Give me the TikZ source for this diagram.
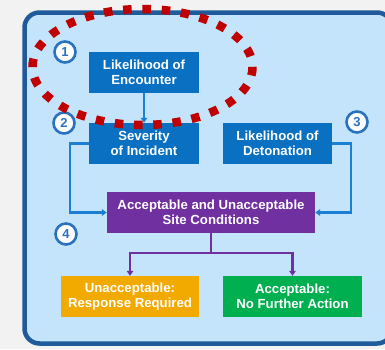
\documentclass[tikz,border=0pt]{standalone}
\usepackage{fontspec}
\setmainfont{Liberation Sans}
\usetikzlibrary{arrows.meta}

\definecolor{pagebg}{HTML}{F2F2F2}
\definecolor{panelfill}{HTML}{C3E4FA}
\definecolor{panelline}{HTML}{1F5B9A}
\definecolor{stepblue}{HTML}{0A70C2}
\definecolor{linkblue}{HTML}{1B80D4}
\definecolor{decpurple}{HTML}{7030A0}
\definecolor{badorange}{HTML}{F2A900}
\definecolor{goodgreen}{HTML}{00B050}
\definecolor{marknum}{HTML}{2B72BE}
\definecolor{focusred}{HTML}{C00000}

\tikzset{
  x=1pt, y=-1pt,
  box/.style={rectangle, inner sep=0pt, minimum height=41pt, align=center,
    text=white, font=\fontsize{13.2}{15.5}\selectfont\bfseries},
  nummark/.style={circle, draw=marknum, line width=2.6pt, fill=white,
    minimum size=21pt, inner sep=0pt, text=marknum,
    font=\fontsize{13}{13}\selectfont\bfseries},
  bluelink/.style={draw=linkblue, line width=2.4pt,
    -{Triangle[length=5pt,width=6.5pt]}},
  purplelink/.style={draw=decpurple, line width=2.4pt},
  purplearrow/.style={purplelink, -{Triangle[length=5pt,width=6.5pt]}},
}

\begin{document}
\begin{tikzpicture}
  % page and panel
  \fill[pagebg] (0,0) rectangle (385,349);
  \useasboundingbox (0,0) rectangle (385,349);
  \begin{scope}
    \clip (0,0) rectangle (385,349);
    \draw[panelline, fill=panelfill, line width=4.5pt, rounded corners=15pt]
      (24.5,12.5) rectangle (392,343.5);
  \end{scope}

  % step boxes
  \node[box, fill=stepblue, minimum width=110pt] (enc) at (144,72.5)
    {Likelihood of\\Encounter};
  \node[box, fill=stepblue, minimum width=110pt] (sev) at (144,143.5)
    {Severity\\of Incident};
  \node[box, fill=stepblue, minimum width=109pt] (det) at (277.5,143.5)
    {Likelihood of\\Detonation};
  \node[box, fill=decpurple, minimum width=208pt] (cond) at (211,212.5)
    {Acceptable and Unacceptable\\Site Conditions};
  \node[box, fill=badorange, minimum width=138pt] (bad) at (130,296.5)
    {Unacceptable:\\Response Required};
  \node[box, fill=goodgreen, minimum width=139pt] (good) at (292.5,296.5)
    {Acceptable:\\No Further Action};

  % connectors
  \draw[bluelink] (enc.south) -- (sev.north);
  \draw[bluelink] (sev.west) -- ++(-19,0) |- (cond.west);
  \draw[bluelink] (det.east) -- ++(19,0) |- (cond.east);
  \coordinate (split) at (211,253);
  \draw[purplelink] (cond.south) -- (split);
  \draw[purplearrow] (split) -| (bad.north);
  \draw[purplearrow] (split) -| (good.north);

  % step numbers
  \node[nummark] (n1) at (65,52) {1};
  \node[nummark] (n2) at (64,123) {2};
  \node[nummark] (n3) at (357,122) {3};
  \node[nummark] (n4) at (66,234) {4};

  % highlight ring around the first step (28 dots around the rim)
  \draw[focusred, line width=8.5pt, dash pattern=on 8.5pt off 10.8pt]
    (142.5,67) ellipse [x radius=110, y radius=58];
\end{tikzpicture}
\end{document}
